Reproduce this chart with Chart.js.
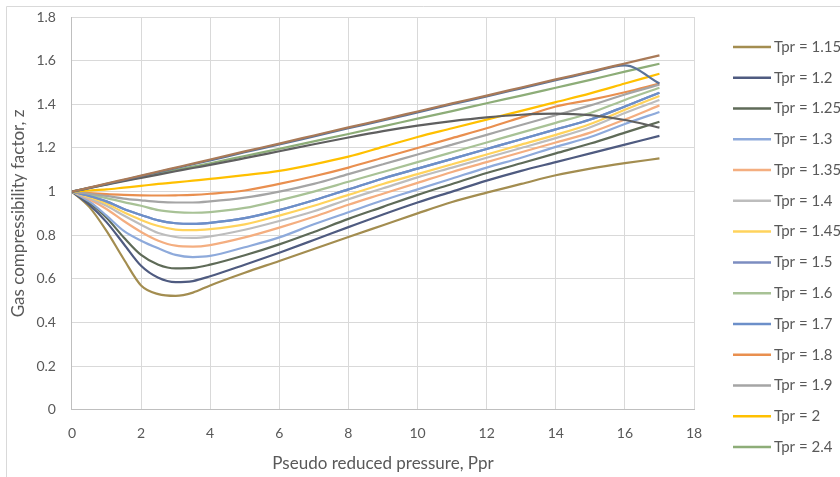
<!DOCTYPE html>
<html><head><meta charset="utf-8">
<script src="https://cdn.jsdelivr.net/npm/chart.js@4/dist/chart.umd.min.js"></script>
<style>html,body{margin:0;padding:0;background:#fff}#wrap{width:840px;height:477px;position:relative}</style>
</head><body><div id="wrap"><canvas id="c" width="840" height="477"></canvas></div>
<script>
// Pseudo reduced pressure (x values)
const ppr = [0,0.5,1,1.5,2,2.5,3,3.5,4,5,6,7,8,9,10,11,12,13,14,15,16,17];

// z-factor series
const z115 = [1,0.93,0.82,0.69,0.57,0.53,0.522,0.537,0.57,0.628,0.682,0.737,0.792,0.846,0.9,0.952,0.995,1.035,1.075,1.105,1.13,1.152];
const z120 = [1,0.94,0.86,0.76,0.66,0.605,0.585,0.59,0.612,0.665,0.72,0.778,0.837,0.895,0.95,1.0,1.05,1.095,1.135,1.175,1.215,1.255];
const z125 = [1,0.95,0.88,0.79,0.71,0.665,0.648,0.65,0.665,0.708,0.758,0.815,0.875,0.93,0.985,1.035,1.085,1.13,1.175,1.22,1.27,1.32];
const z130 = [1,0.955,0.89,0.82,0.775,0.74,0.71,0.70,0.705,0.745,0.79,0.85,0.905,0.96,1.01,1.06,1.11,1.155,1.205,1.25,1.31,1.365];
const z135 = [1,0.965,0.92,0.865,0.815,0.775,0.752,0.748,0.755,0.79,0.835,0.885,0.94,0.99,1.04,1.09,1.135,1.18,1.225,1.27,1.33,1.395];
const z140 = [1,0.97,0.935,0.89,0.848,0.81,0.792,0.788,0.795,0.825,0.865,0.91,0.965,1.015,1.065,1.11,1.155,1.2,1.245,1.295,1.36,1.42];
const z145 = [1,0.975,0.945,0.905,0.87,0.842,0.826,0.823,0.828,0.85,0.89,0.935,0.985,1.035,1.08,1.125,1.17,1.215,1.26,1.31,1.375,1.438];
const z150 = [1,0.98,0.955,0.92,0.893,0.868,0.855,0.852,0.857,0.878,0.915,0.96,1.01,1.06,1.105,1.15,1.195,1.24,1.285,1.33,1.39,1.453];
const z160 = [1,0.985,0.97,0.952,0.935,0.915,0.906,0.903,0.906,0.925,0.96,1.0,1.045,1.09,1.135,1.18,1.225,1.27,1.315,1.36,1.42,1.476];
const z170 = [1,0.98,0.955,0.92,0.893,0.868,0.855,0.852,0.857,0.878,0.915,0.96,1.01,1.06,1.105,1.15,1.195,1.24,1.285,1.33,1.39,1.453];
const z180 = [1,0.993,0.988,0.985,0.983,0.982,0.983,0.985,0.99,1.005,1.035,1.07,1.11,1.155,1.2,1.245,1.29,1.34,1.39,1.42,1.455,1.495];
const z190 = [1,0.99,0.98,0.968,0.96,0.953,0.95,0.95,0.955,0.972,1.0,1.035,1.08,1.125,1.17,1.215,1.26,1.305,1.35,1.395,1.445,1.49];
const z200 = [1,1.005,1.01,1.018,1.026,1.035,1.042,1.05,1.058,1.075,1.095,1.125,1.16,1.205,1.25,1.29,1.33,1.37,1.41,1.45,1.495,1.54];
const z240 = [1,1.017,1.033,1.05,1.066,1.082,1.098,1.114,1.13,1.163,1.196,1.23,1.264,1.299,1.334,1.369,1.405,1.44,1.476,1.512,1.55,1.586];
// series plotted but cut off from the legend
const z260 = [1,1.016,1.032,1.048,1.063,1.078,1.093,1.108,1.122,1.153,1.185,1.217,1.248,1.277,1.302,1.323,1.34,1.352,1.357,1.35,1.328,1.293];
const z280 = [1,1.017,1.035,1.053,1.071,1.089,1.107,1.125,1.143,1.18,1.216,1.253,1.29,1.326,1.363,1.4,1.436,1.473,1.51,1.546,1.578,1.495];
const z300 = [1,1.018,1.037,1.055,1.073,1.092,1.11,1.128,1.147,1.184,1.22,1.257,1.294,1.33,1.367,1.404,1.44,1.477,1.514,1.55,1.587,1.624];

const seriesNames = ['Tpr = 1.15','Tpr = 1.2','Tpr = 1.25','Tpr = 1.3','Tpr = 1.35','Tpr = 1.4','Tpr = 1.45','Tpr = 1.5','Tpr = 1.6','Tpr = 1.7','Tpr = 1.8','Tpr = 1.9','Tpr = 2','Tpr = 2.4','Tpr = 2.6','Tpr = 2.8','Tpr = 3'];
const seriesValues = [z115,z120,z125,z130,z135,z140,z145,z150,z160,z170,z180,z190,z200,z240,z260,z280,z300];
const legendShown = 14;

const xTickLabels = ['0','2','4','6','8','10','12','14','16','18'];
const yTickLabels = ['0','0.2','0.4','0.6','0.8','1','1.2','1.4','1.6','1.8'];

const colors = ['#A38D50','#4F5B80','#5F6B58','#8EAADB','#F4AE80','#BDBDBD','#FFD35C','#7C8DC0','#A8C296','#6C8FC9','#E98F4F','#A5A5A5','#FFC000','#8DAD78','#606060','#5B7399','#A97A58'];

const FONT = 'Lato, "Open Sans", sans-serif';

const datasets = seriesValues.map((vals, i) => ({
  label: seriesNames[i],
  data: ppr.map((p, k) => ({x: p, y: vals[k]})),
  borderColor: colors[i],
  backgroundColor: colors[i],
  borderWidth: 2.2,
  pointRadius: 0,
  cubicInterpolationMode: 'monotone',
  fill: false,
  order: -i
}));

const sideLegend = {
  id: 'sideLegend',
  afterDraw(chart) {
    const ctx = chart.ctx;
    ctx.save();
    ctx.strokeStyle = '#D9D9D9';
    ctx.lineWidth = 1;
    ctx.beginPath();
    ctx.moveTo(6.5, 477); ctx.lineTo(6.5, 6.5); ctx.lineTo(840, 6.5);
    ctx.stroke();
    ctx.font = '15px ' + FONT;
    ctx.textBaseline = 'middle';
    ctx.textAlign = 'left';
    for (let i = 0; i < legendShown; i++) {
      const y = 47 + i * 30.77;
      ctx.strokeStyle = colors[i];
      ctx.lineWidth = 2.5;
      ctx.beginPath(); ctx.moveTo(733, y); ctx.lineTo(771, y); ctx.stroke();
      ctx.fillStyle = '#595959';
      ctx.fillText(seriesNames[i], 774, y);
    }
    ctx.restore();
  }
};

new Chart(document.getElementById('c'), {
  type: 'line',
  data: {datasets},
  options: {
    responsive: false,
    animation: false,
    devicePixelRatio: 1,
    layout: {padding: {left: 4, top: 17, right: 146, bottom: 1}},
    plugins: {legend: {display: false}, tooltip: {enabled: false}},
    scales: {
      x: {
        type: 'linear', min: 0, max: 18,
        ticks: {stepSize: 2, color: '#595959', font: {family: FONT, size: 14}, padding: 15,
          callback: (v, i) => xTickLabels[i]},
        grid: {color: '#D9D9D9', drawTicks: false},
        border: {color: '#BFBFBF'},
        title: {display: true, text: 'Pseudo reduced pressure, Ppr', color: '#595959',
          font: {family: FONT, size: 17}, padding: {top: -3, bottom: 2}}
      },
      y: {
        type: 'linear', min: 0, max: 1.8,
        afterFit: (s) => { s.paddingTop = 0; s.paddingBottom = 0; },
        ticks: {stepSize: 0.2, color: '#595959', font: {family: FONT, size: 14}, padding: 16,
          callback: (v, i) => yTickLabels[i]},
        grid: {color: '#D9D9D9', drawTicks: false},
        border: {color: '#BFBFBF'},
        title: {display: true, text: 'Gas compressibility factor, z', color: '#595959',
          font: {family: FONT, size: 17}, padding: {top: 4, bottom: -8}}
      }
    }
  },
  plugins: [sideLegend]
});
</script></body></html>
